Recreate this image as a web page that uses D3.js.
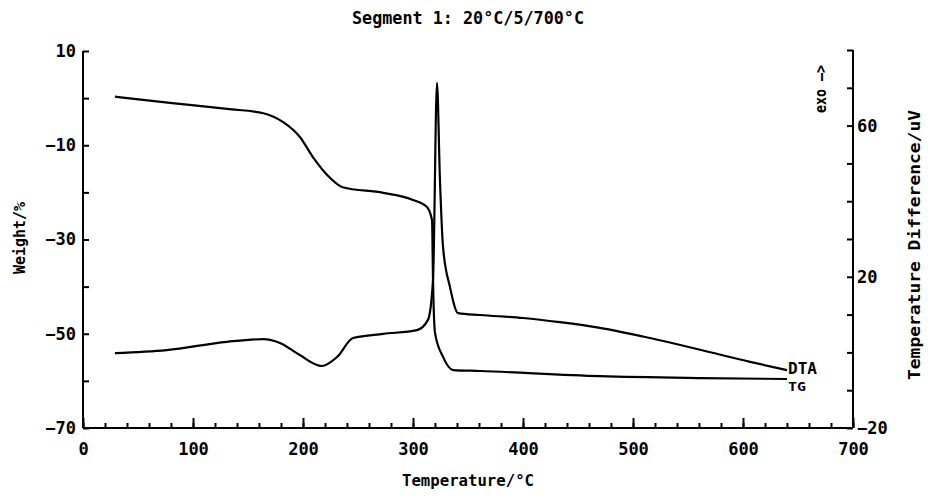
<!DOCTYPE html>
<html><head><meta charset="utf-8">
<script src="https://cdn.jsdelivr.net/npm/d3@7"></script>
<style>
body{margin:0;background:#fff;}
text{font-family:"DejaVu Sans Mono",monospace;font-weight:bold;fill:#000;}
</style></head>
<body>
<svg id="chart" width="934" height="498"></svg>
<script>
// TG curve: temperature (°C) and weight (%)
const tgTemp   = [29, 79, 131, 164, 182, 197, 209, 224.5, 236, 273, 300, 312.7, 317.3, 318.2, 320, 327.3, 336.4, 361, 470, 561, 640];
const tgWeight = [0.3, -1.0, -2.3, -3.2, -5.1, -8.2, -12.5, -16.9, -18.9, -20.1, -21.6, -23.1, -25.9, -38.6, -49.8, -54.9, -57.7, -57.9, -59.0, -59.4, -59.6];
// DTA curve: temperature (°C) and temperature difference (uV)
const dtaTemp  = [29, 76, 131, 164, 179, 197, 217, 231, 245.5, 273, 303.6, 313.6, 318.2, 321.8, 324.5, 327.3, 333.6, 341, 361, 400, 433.6, 470, 515.5, 561, 606.4, 640];
const dtaValue = [-0.2, 0.6, 2.8, 3.5, 2.5, -0.7, -3.6, -1.2, 3.8, 4.9, 5.9, 8.6, 19.2, 71.3, 45.6, 27.9, 17.3, 10.4, 9.9, 9.1, 8.0, 6.5, 3.8, 0.7, -2.5, -4.7];
// Axis ticks
const xMinorTicks = d3.range(0, 701, 20);
const xMajorTicks = [0, 100, 200, 300, 400, 500, 600, 700];
const leftTicks = [10, 0, -10, -20, -30, -40, -50, -60, -70];
const leftLabels = [10, -10, -30, -50, -70];
const rightTicks = [80, 70, 60, 50, 40, 30, 20, 10, 0, -10, -20];
const rightLabels = [60, 20, -20];

const svg = d3.select("#chart");
const x = d3.scaleLinear().domain([0, 700]).range([83, 853]);
const yL = d3.scaleLinear().domain([-70, 10]).range([428, 51]);
const yR = d3.scaleLinear().domain([-20, 80]).range([428, 50]);

const tickFont = g => g.selectAll("text").style("font-size", "17px").style("font-family", '"DejaVu Sans Mono",monospace').style("font-weight", "bold").attr("fill", "#000");
const styleAxis = g => { g.select(".domain").remove(); g.selectAll("line").attr("stroke", "#000").attr("stroke-width", 2); };

// frame lines (left, bottom, right)
const frame = svg.append("g").attr("stroke", "#000").attr("stroke-width", 2).attr("fill", "none");
frame.append("line").attr("x1", x(0)).attr("x2", x(0)).attr("y1", yL(10)).attr("y2", yL(-70));
frame.append("line").attr("x1", x(0)).attr("x2", x(700)).attr("y1", yL(-70)).attr("y2", yL(-70));
frame.append("line").attr("x1", x(700)).attr("x2", x(700)).attr("y1", yR(80)).attr("y2", yR(-20));

// x axis minor ticks
svg.append("g").attr("transform", `translate(0,${yL(-70)})`)
  .call(d3.axisBottom(x).tickValues(xMinorTicks).tickSizeInner(-5).tickSizeOuter(0).tickFormat(""))
  .call(styleAxis);
// x axis major ticks + labels
svg.append("g").attr("transform", `translate(0,${yL(-70)})`)
  .call(d3.axisBottom(x).tickValues(xMajorTicks).tickSizeInner(-10).tickSizeOuter(0).tickPadding(15).tickFormat(d3.format("d")))
  .call(styleAxis).call(tickFont);

// left axis
svg.append("g").attr("transform", `translate(${x(0)},0)`)
  .call(d3.axisLeft(yL).tickValues(leftTicks).tickSizeInner(-6).tickSizeOuter(0).tickPadding(7)
    .tickFormat(d => leftLabels.includes(d) ? d3.format("d")(d) : ""))
  .call(styleAxis).call(tickFont);

// right axis
svg.append("g").attr("transform", `translate(${x(700)},0)`)
  .call(d3.axisRight(yR).tickValues(rightTicks).tickSizeInner(-6).tickSizeOuter(0).tickPadding(4)
    .tickFormat(d => rightLabels.includes(d) ? d3.format("d")(d) : ""))
  .call(styleAxis).call(tickFont);

// curves
const tgData = tgTemp.map((t, i) => [t, tgWeight[i]]);
const dtaData = dtaTemp.map((t, i) => [t, dtaValue[i]]);
svg.append("path").datum(tgData)
  .attr("d", d3.line().x(d => x(d[0])).y(d => yL(d[1])).curve(d3.curveMonotoneX))
  .attr("fill", "none").attr("stroke", "#000").attr("stroke-width", 2.2).attr("stroke-linejoin", "round");
svg.append("path").datum(dtaData)
  .attr("d", d3.line().x(d => x(d[0])).y(d => yR(d[1])).curve(d3.curveMonotoneX))
  .attr("fill", "none").attr("stroke", "#000").attr("stroke-width", 2.2).attr("stroke-linejoin", "round");

// curve labels
svg.append("text").attr("x", x(640) + 1).attr("y", yR(dtaValue[dtaValue.length - 1]) + 4)
  .attr("textLength", 29).attr("lengthAdjust", "spacingAndGlyphs").style("font-size", "15px").text("DTA");
svg.append("text").attr("x", x(640) + 1).attr("y", yL(tgWeight[tgWeight.length - 1]) + 12)
  .attr("textLength", 18).attr("lengthAdjust", "spacingAndGlyphs").style("font-size", "13px").text("TG");

// titles
svg.append("text").attr("x", 468).attr("y", 24).attr("text-anchor", "middle")
  .attr("textLength", 232).attr("lengthAdjust", "spacingAndGlyphs").style("font-size", "18px")
  .text("Segment 1: 20°C/5/700°C");
svg.append("text").attr("x", 468).attr("y", 486).attr("text-anchor", "middle")
  .attr("textLength", 132).attr("lengthAdjust", "spacingAndGlyphs").style("font-size", "16px")
  .text("Temperature/°C");
svg.append("text").attr("transform", "translate(25,238) rotate(-90)").attr("text-anchor", "middle")
  .attr("textLength", 72).attr("lengthAdjust", "spacingAndGlyphs").style("font-size", "16px")
  .text("Weight/%");
svg.append("text").attr("transform", "translate(920,245) rotate(-90)").attr("text-anchor", "middle")
  .attr("textLength", 270).attr("lengthAdjust", "spacingAndGlyphs").style("font-size", "16px")
  .text("Temperature Difference/uV");
svg.append("text").attr("transform", "translate(826,113) rotate(-90)").attr("text-anchor", "start")
  .attr("textLength", 48).attr("lengthAdjust", "spacingAndGlyphs").style("font-size", "15px")
  .text("exo —>");
</script>
</body></html>
